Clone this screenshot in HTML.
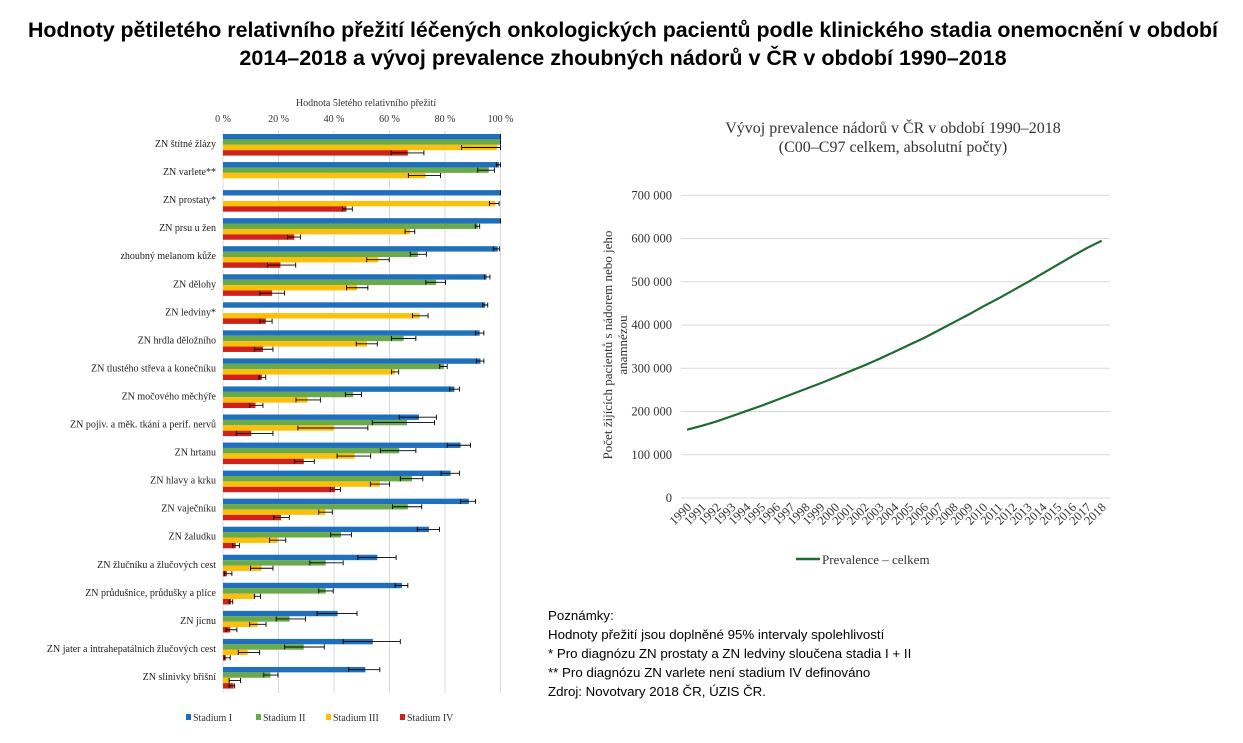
<!DOCTYPE html>
<html><head><meta charset="utf-8"><style>
html,body{margin:0;padding:0;background:#fff;width:1243px;height:743px;overflow:hidden}
svg{display:block}
.t{font-family:"Liberation Sans",sans-serif;font-weight:bold;font-size:21.5px;fill:#000}
.n{font-family:"Liberation Sans",sans-serif;font-size:13.3px;fill:#000}
</style></head><body>
<svg id="root" width="1243" height="743" xmlns="http://www.w3.org/2000/svg">
<text class="t" x="623" y="37" text-anchor="middle" textLength="1190" lengthAdjust="spacingAndGlyphs">Hodnoty pětiletého relativního přežití léčených onkologických pacientů podle klinického stadia onemocnění v období</text>
<text class="t" x="623" y="65" text-anchor="middle">2014–2018 a vývoj prevalence zhoubných nádorů v ČR v období 1990–2018</text>
<g id="left"></g>
<g id="right"></g>
<g>
<text class="n" x="548" y="620">Poznámky:</text>
<text class="n" x="548" y="639">Hodnoty přežití jsou doplněné 95% intervaly spolehlivostí</text>
<text class="n" x="548" y="658">* Pro diagnózu ZN prostaty a ZN ledviny sloučena stadia I + II</text>
<text class="n" x="548" y="677">** Pro diagnózu ZN varlete není stadium IV definováno</text>
<text class="n" x="548" y="696">Zdroj: Novotvary 2018 ČR, ÚZIS ČR.</text>
</g>
</svg>
<script>
const categories=["ZN štítné žlázy","ZN varlete**","ZN prostaty*","ZN prsu u žen","zhoubný melanom kůže","ZN dělohy","ZN ledviny*","ZN hrdla děložního","ZN tlustého střeva a konečníku","ZN močového měchýře","ZN pojiv. a měk. tkání a perif. nervů","ZN hrtanu","ZN hlavy a krku","ZN vaječníku","ZN žaludku","ZN žlučníku a žlučových cest","ZN průdušnice, průdušky a plíce","ZN jícnu","ZN jater a intrahepatálních žlučových cest","ZN slinivky břišní"];
const stage1=[100,99.5,100,100,99,95,94.5,92.5,92.8,83.4,70.6,85.6,82,88.6,74.2,55.6,64.5,41.3,54,51.3];
const stage1Lo=[100,98.5,100,100,97.4,94.2,93.6,91,91.3,81.7,63.5,80.8,78.6,85.6,70,48.6,62,33.9,43.3,45.3];
const stage1Hi=[100,100,100,100,99.6,96.2,95.4,94,94,85.2,76.9,89.2,85.2,91,78,62.4,66.6,48.3,63.9,56.5];
const stage2=[100,95.8,null,91.8,70.2,76.8,null,65.1,79.6,46.9,66.3,63.5,68.1,66.6,42.5,37,37,24,29.1,17.1];
const stage2Lo=[100,91.8,null,90.9,67.5,73.1,null,60.7,78.1,44.1,53.8,56.7,63.9,61.1,38.8,31.3,34.5,19.2,22.2,14.7];
const stage2Hi=[100,97.8,null,92.5,73.3,80.2,null,69.5,80.8,49.9,76.2,69.5,72,71.6,46.3,43.3,39.7,29.7,36.5,19.8];
const stage3=[98.8,73,98.2,67.3,56,48.3,70.9,51.9,61.9,30.5,39.9,47.4,56.5,36.9,19.7,13.9,11.7,12.5,8.9,2.6];
const stage3Lo=[86,66.8,96,65.6,51.8,44.5,68.3,48,60.7,26.3,27,41.1,53.1,34.5,16.8,9.9,11.3,9.6,5.5,2.2];
const stage3Hi=[100,78.4,99.5,69.1,59.9,52.2,73.9,55.6,63.3,35.1,52.2,53.2,60,39.4,22.6,18,13.5,15.5,13.2,6.3];
const stage4=[66.6,null,44.5,25.7,20.7,17.7,15.4,14.4,14,11.7,10.2,29.1,40.4,20.9,4.6,1.4,2.9,2.6,1,3.8];
const stage4Lo=[60.6,null,43,23.3,16,13.3,13.3,11.3,13,9.6,4.8,25.8,38.7,18.3,3.5,0.5,2.2,1.1,0.4,2.2];
const stage4Hi=[72.4,null,46.6,27.9,26.2,22.2,17.7,18,15.4,14.4,18,32.9,42.3,23.9,5.9,3.2,3.5,5,2.6,4.2];
const pctTicks=[0,20,40,60,80,100];
const years=[];for(let y=1990;y<=2018;y++)years.push(y);
const prevalence=[158000,167000,177000,189000,201000,213000,226000,239000,252000,265000,279000,293000,307000,322000,338000,354000,370000,388000,406000,424000,443000,461000,480000,499000,519000,539000,559000,578000,595000];
const yTicks=[0,100000,200000,300000,400000,500000,600000,700000];

const NS="http://www.w3.org/2000/svg";
function mk(p,t,a,txt){const e=document.createElementNS(NS,t);for(const k in a)e.setAttribute(k,a[k]);if(txt!==undefined)e.textContent=txt;p.appendChild(e);return e;}
const L=document.getElementById('left');
const px=v=>223+v*2.775;
const bandY=i=>133+i*28.05;
mk(L,'text',{x:366,y:106,'text-anchor':'middle','font-family':'Liberation Serif, serif','font-size':10,fill:'#333'},'Hodnota 5letého relativního přežití');
pctTicks.forEach(t=>{
 const g=mk(L,'line',{x1:px(t),x2:px(t),y1:131,y2:693,stroke:'#d9d9d9','stroke-width':1});
 
 
 const tx=mk(L,'text',{x:px(t),y:122,'text-anchor':'middle','font-family':'Liberation Serif, serif','font-size':10,fill:'#333'},t+' %');
 
 
});
const series=[[stage1,stage1Lo,stage1Hi,'#1f6fba'],[stage2,stage2Lo,stage2Hi,'#6aaa4a'],[stage3,stage3Lo,stage3Hi,'#fcc00c'],[stage4,stage4Lo,stage4Hi,'#d0221c']];
const bh=5.4;
categories.forEach((c,i)=>{
 const lb=mk(L,'text',{x:216,y:bandY(i)+14,'text-anchor':'end','font-family':'Liberation Serif, serif','font-size':10,fill:'#222'},c);
 
 
 series.forEach((s,k)=>{
  const v=s[0][i];if(v===null)return;
  const y=bandY(i)+1+k*bh;
  const r=mk(L,'rect',{x:px(0),y:y,width:px(v)-px(0),height:bh,fill:s[3]});
  
  
  const lo=px(s[1][i]),hi=px(s[2][i]),cy=y+bh/2;
  const e=mk(L,'path',{d:`M${lo},${cy}H${hi}M${lo},${cy-2.5}V${cy+2.5}M${hi},${cy-2.5}V${cy+2.5}`,stroke:'#000','stroke-width':0.9,fill:'none'});
  
  
 });
});
const legend=[['Stadium I','#1f6fba',186],['Stadium II','#6aaa4a',256],['Stadium III','#fcc00c',326],['Stadium IV','#d0221c',400]];
legend.forEach(l=>{
 const g=mk(L,'g',{});
 
 
 mk(g,'rect',{x:l[2],y:714,width:5,height:6,fill:l[1]});
 mk(g,'text',{x:l[2]+7,y:721,'font-family':'Liberation Serif, serif','font-size':10,fill:'#333'},l[0]);
});

const R=document.getElementById('right');
const x0=687,x1=1101.7;
const xs=i=>x0+(x1-x0)*i/(years.length-1);
const ys=v=>498-v*(302.7/700000);
mk(R,'text',{x:893,y:133,'text-anchor':'middle','font-family':'Liberation Serif, serif','font-size':16,fill:'#333'},'Vývoj prevalence nádorů v ČR v období 1990–2018');
mk(R,'text',{x:893,y:152,'text-anchor':'middle','font-family':'Liberation Serif, serif','font-size':16,fill:'#333'},'(C00–C97 celkem, absolutní počty)');
yTicks.forEach(t=>{
 const g=mk(R,'line',{x1:681,x2:1110,y1:ys(t),y2:ys(t),stroke:'#d9d9d9','stroke-width':1});
 
 
 const tx=mk(R,'text',{x:672,y:ys(t)+4,'text-anchor':'end','font-family':'Liberation Serif, serif','font-size':12.5,fill:'#333'},t===0?'0':(t/1000)+' 000');
 
 
});
years.forEach((y,i)=>{
 const tx=mk(R,'text',{x:xs(i)+5,y:508,'text-anchor':'end','font-family':'Liberation Serif, serif','font-size':12.5,fill:'#333',transform:`rotate(-45 ${xs(i)+5} 508)`},String(y));
 
 
});
const yt=mk(R,'text',{transform:'translate(612,345) rotate(-90)','text-anchor':'middle','font-family':'Liberation Serif, serif','font-size':13,fill:'#333'},'Počet žijících pacientů s nádorem nebo jeho');


mk(R,'text',{transform:'translate(627,345) rotate(-90)','text-anchor':'middle','font-family':'Liberation Serif, serif','font-size':13,fill:'#333'},'anamnézou');
const line=mk(R,'polyline',{points:prevalence.map((v,i)=>xs(i)+','+ys(v)).join(' '),fill:'none',stroke:'#1e6b32','stroke-width':2.2});


const lg=mk(R,'g',{});


mk(lg,'line',{x1:796,x2:820,y1:559,y2:559,stroke:'#1e6b32','stroke-width':2.5});
mk(lg,'text',{x:822,y:564,'font-family':'Liberation Serif, serif','font-size':13,fill:'#333'},'Prevalence – celkem');
</script>
</body></html>
